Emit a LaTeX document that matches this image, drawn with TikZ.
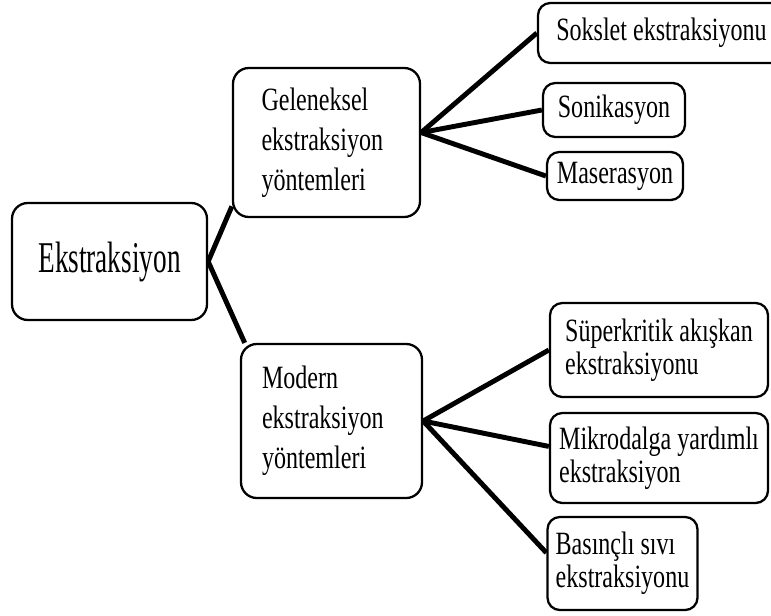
\documentclass[tikz,border=0pt]{standalone}
\usepackage{fontspec}
\setmainfont{Liberation Serif}[FakeStretch=0.74]
\newfontfamily\bigfont{Liberation Serif}[FakeStretch=0.62]
\usetikzlibrary{positioning}

\begin{document}
\begin{tikzpicture}[
  root/.style={rectangle, rounded corners=9pt, draw, line width=1.3pt,
               minimum width=3.9cm, minimum height=2.34cm,
               font=\bigfont\fontsize{25}{28}\selectfont},
  branch/.style={rectangle, rounded corners=9pt, draw, line width=1.3pt,
                 align=left, font=\fontsize{18.5}{22.8}\selectfont},
  leaf/.style={rectangle, rounded corners=7pt, draw, line width=1.3pt,
               align=left, inner xsep=2pt, font=\fontsize{18.5}{18.8}\selectfont},
  link/.style={line width=2.8pt}
]
  \clip (0,0) rectangle (15.42,-12.3);

  \node[root] (ekst) at (2.19,-5.23) {Ekstraksiyon};

  \node[branch, text width=2.6cm, minimum width=3.74cm, minimum height=2.98cm] (gel) at (6.53,-2.85)
    {Geleneksel\\ekstraksiyon\\yöntemleri};
  \node[branch, text width=2.78cm, minimum width=3.62cm, minimum height=3.08cm] (mod) at (6.63,-8.42)
    {Modern\\ekstraksiyon\\yöntemleri};

  \node[leaf, minimum width=4.94cm, minimum height=1.2cm]  (sok) at (13.23,-0.66) {Sokslet ekstraksiyonu};
  \node[leaf, minimum width=2.84cm, minimum height=1.08cm] (son) at (12.28,-2.2)  {Sonikasyon};
  \node[leaf, minimum width=2.72cm, minimum height=0.96cm] (mas) at (12.3,-3.52)  {Maserasyon};

  \node[leaf, minimum width=4.36cm, minimum height=1.88cm] (sup) at (13.18,-7.0)  {Süperkritik akışkan\\ekstraksiyonu};
  \node[leaf, minimum width=4.36cm, minimum height=1.8cm]  (mik) at (13.18,-9.16) {Mikrodalga yardımlı\\ekstraksiyon};
  \node[leaf, minimum width=3.0cm, minimum height=1.86cm] (bas) at (12.45,-11.27)
    {Basınçlı sıvı\\ekstraksiyonu};

  \draw[link] (ekst.east) -- (gel.214);
  \draw[link] (ekst.east) -- (mod.138);

  \draw[link] (gel.6) -- (sok.west);
  \draw[link] (gel.6) -- (son.west);
  \draw[link] (gel.6) -- (mas.west);

  \draw[link] (mod.east) -- (sup.west);
  \draw[link] (mod.east) -- (mik.174);
  \draw[link] (mod.east) -- (bas.172);
\end{tikzpicture}
\end{document}
